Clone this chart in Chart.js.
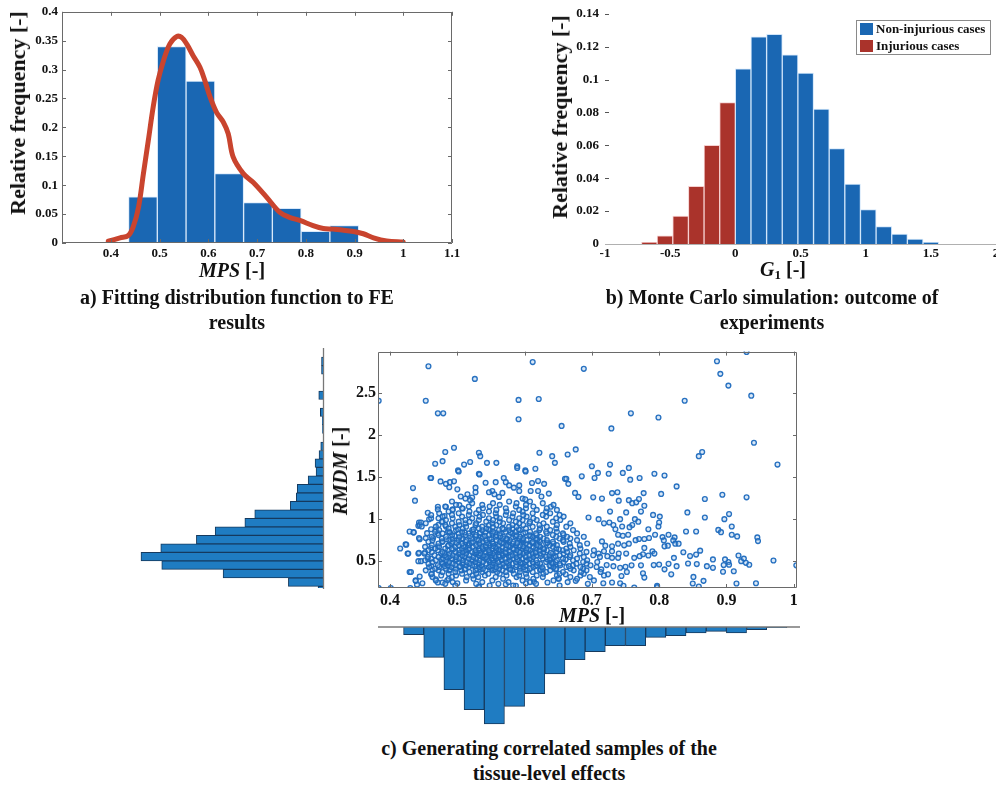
<!DOCTYPE html>
<html>
<head>
<meta charset="utf-8">
<title>MPS / RMDM samples</title>
<script src="https://cdn.jsdelivr.net/npm/chart.js@4.4.1/dist/chart.umd.min.js"></script>
<style>
html, body { margin: 0; padding: 0; width: 996px; height: 787px; overflow: hidden; background: #fff; }
body { position: relative; font-family: "Liberation Serif", "Times New Roman", serif; font-weight: bold; color: #111; }
canvas { position: absolute; }
.lbl { position: absolute; white-space: nowrap; transform: translate(-50%, -50%); font-size: 20px; line-height: 1; }
.rot { transform: translate(-50%, -50%) rotate(-90deg); }
.cap { position: absolute; transform: translateX(-50%); text-align: center; font-size: 20px; line-height: 25px; white-space: nowrap; }
.lbl i { font-style: italic; }
.lbl sub { font-size: 13px; vertical-align: -3px; }
</style>
</head>
<body>
<canvas id="histA" width="470" height="265" style="left:0;top:0"></canvas>
<canvas id="histB" width="470" height="265" style="left:540px;top:0"></canvas>
<canvas id="sideHist" width="200" height="260" style="left:130px;top:340px"></canvas>
<canvas id="scatterC" width="480" height="272" style="left:330px;top:340px"></canvas>
<canvas id="bottomHist" width="480" height="110" style="left:330px;top:620px"></canvas>

<div class="lbl rot" style="left:18px;top:113px;font-size:22px">Relative frequency [-]</div>
<div class="lbl" style="left:232px;top:270px"><i>MPS</i> [-]</div>
<div class="cap" style="left:237px;top:285px">a) Fitting distribution function to FE<br>results</div>

<div class="lbl rot" style="left:560px;top:117px;font-size:22px">Relative frequency [-]</div>
<div class="lbl" style="left:783px;top:270px"><i>G</i><sub>1</sub> [-]</div>
<div class="cap" style="left:772px;top:285px">b) Monte Carlo simulation: outcome of<br>experiments</div>

<div class="lbl rot" style="left:340px;top:471px"><i>RMDM</i> [-]</div>
<div class="lbl" style="left:592px;top:615px"><i>MPS</i> [-]</div>
<div class="cap" style="left:549px;top:736px">c) Generating correlated samples of the<br>tissue-level effects</div>

<script>
// a) FE results
const mpsBinCenters = [0.466, 0.525, 0.584, 0.643, 0.702, 0.761, 0.820, 0.879];
const mpsBinFreq = [0.08, 0.34, 0.28, 0.12, 0.07, 0.06, 0.02, 0.03];
const fitMps = [0.395, 0.419, 0.436, 0.446, 0.457, 0.467, 0.477, 0.487, 0.497, 0.508, 0.521, 0.535, 0.545, 0.556,
  0.569, 0.583, 0.593, 0.604, 0.617, 0.631, 0.641, 0.651, 0.672, 0.692, 0.720, 0.747, 0.768, 0.788, 0.815, 0.836,
  0.857, 0.898, 0.918, 0.939, 0.966, 1.0];
const fitDensity = [0.003, 0.009, 0.013, 0.028, 0.062, 0.12, 0.177, 0.235, 0.281, 0.315, 0.344, 0.357, 0.356, 0.344,
  0.324, 0.304, 0.281, 0.252, 0.226, 0.209, 0.189, 0.149, 0.12, 0.105, 0.079, 0.053, 0.044, 0.039, 0.030, 0.025,
  0.024, 0.020, 0.016, 0.009, 0.0035, 0.0017];

// b) Monte Carlo outcome
const g1Injurious = [-0.66, -0.54, -0.42, -0.30, -0.18, -0.06];
const g1InjuriousFreq = [0.001, 0.005, 0.017, 0.035, 0.060, 0.086];
const g1Safe = [0.06, 0.18, 0.30, 0.42, 0.54, 0.66, 0.78, 0.90, 1.02, 1.14, 1.26, 1.38, 1.50];
const g1SafeFreq = [0.1065, 0.126, 0.1275, 0.115, 0.104, 0.082, 0.058, 0.0365, 0.021, 0.0106, 0.006, 0.003, 0.001];

// c) marginal histograms
const rmdmBinCenters = [0.15, 0.25, 0.35, 0.45, 0.55, 0.65, 0.75, 0.85, 0.95, 1.05, 1.15, 1.25, 1.35, 1.45, 1.55,
  1.65, 1.75, 1.85, 1.95, 2.05, 2.15, 2.25, 2.35, 2.45, 2.55, 2.65, 2.75, 2.85, 2.95];
const rmdmCounts = [5, 35, 101, 163, 184, 164, 128, 109, 79, 69, 33, 27, 26, 15, 7, 8, 4, 2.3, 0, 0.5, 0.7, 2.7, 0,
  4.3, 0, 0, 1.5, 1.5, 0];
const mpsSampleBins = [0.435, 0.465, 0.495, 0.525, 0.555, 0.585, 0.615, 0.645, 0.675, 0.705, 0.735, 0.765, 0.795,
  0.825, 0.855, 0.885, 0.915, 0.945, 0.975];
const mpsSampleCounts = [7.7, 30.3, 62.7, 82.7, 97, 79.3, 66.7, 47, 32.7, 24.7, 18.7, 18.7, 10.3, 8.7, 6, 4.3, 6, 2.7, 0.7];

// c) scatter: sparse samples [MPS, RMDM]
const samplePoints = [
  [0.93,2.99],[0.457,2.82],[0.612,2.87],[0.688,2.79],[0.886,2.88],[0.891,2.73],[0.903,2.59],[0.937,2.47],[0.526,2.67],
  [0.453,2.41],[0.383,2.41],[0.591,2.42],[0.621,2.43],[0.838,2.41],[0.471,2.26],[0.479,2.26],[0.591,2.19],[0.758,2.26],
  [0.799,2.21],[0.655,2.11],[0.729,2.08],[0.941,1.91],[0.495,1.85],[0.482,1.80],[0.676,1.83],[0.664,1.77],[0.622,1.79],
  [0.532,1.79],[0.534,1.75],[0.864,1.80],[0.859,1.75],[0.976,1.65],[0.478,1.69],[0.467,1.66],[0.51,1.65],[0.519,1.68],
  [0.544,1.67],[0.558,1.67],[0.641,1.75],[0.645,1.67],[0.589,1.63],[0.601,1.58],[0.616,1.60],[0.7,1.63],[0.727,1.65],
  [0.755,1.61],[0.501,1.58],[0.46,1.49],[0.532,1.54],[0.709,1.55],[0.725,1.54],[0.746,1.55],[0.793,1.54],[0.808,1.52],
  [0.685,1.51],[0.704,1.49],[0.771,1.49],[0.757,1.47],[0.66,1.48],
  [0.434,1.37],[0.437,1.22],[0.826,1.39],[0.803,1.30],[0.894,1.29],[0.93,1.26],[0.868,1.24],[0.777,1.31],[0.73,1.31],
  [0.738,1.32],[0.715,1.245],[0.702,1.26],[0.74,1.22],[0.755,1.226],[0.76,1.19],[0.766,1.2],[0.77,1.24],[0.778,1.16],
  [0.727,1.09],[0.751,1.08],[0.773,1.09],[0.791,1.05],[0.801,1.03],[0.842,1.08],[0.868,1.02],[0.904,1.06],[0.897,1.0],
  [0.71,1.0],[0.695,1.02],[0.742,1.0],[0.764,1.0],[0.769,0.97],[0.76,0.93],[0.756,0.904],[0.745,0.912],[0.732,0.93],
  [0.726,0.96],[0.718,0.95],[0.8,0.96],[0.799,0.912],[0.784,0.88],[0.888,0.872],[0.892,0.845],[0.908,0.912],
  [0.908,0.814],[0.916,0.794],[0.84,0.853],[0.855,0.853],[0.946,0.782],[0.947,0.739],[0.97,0.508],[1.004,0.45],
  [0.929,0.48],[0.922,0.5],[0.918,0.567],[0.926,0.53],[0.934,0.457],[0.911,0.38],[0.903,0.49],[0.904,0.457],
  [0.898,0.52],[0.896,0.453],[0.895,0.374],[0.88,0.52],[0.88,0.42],[0.871,0.44],[0.861,0.625],[0.855,0.578],
  [0.846,0.56],[0.836,0.606],[0.843,0.472],[0.856,0.465],[0.851,0.312],[0.866,0.265],[0.85,0.233],[0.859,0.198],
  [0.915,0.233],[0.944,0.237],[0.823,0.782],[0.814,0.814],[0.805,0.786],[0.807,0.747],[0.821,0.747],[0.824,0.708],
  [0.829,0.708],[0.813,0.684],[0.808,0.676],[0.794,0.814],[0.785,0.775],[0.778,0.763],[0.77,0.763],[0.765,0.75],
  [0.754,0.814],[0.746,0.802],[0.739,0.814],[0.735,0.88],[0.755,0.708],[0.748,0.688],[0.739,0.708],[0.73,0.676],
  [0.72,0.684],[0.715,0.735],[0.778,0.657],[0.79,0.618],[0.793,0.59],[0.784,0.567],[0.776,0.582],[0.771,0.559],
  [0.763,0.539],[0.751,0.59],[0.74,0.59],[0.73,0.618],[0.718,0.618],[0.71,0.59],[0.723,0.559],[0.73,0.539],
  [0.739,0.539],[0.822,0.539],[0.826,0.44],[0.814,0.468],[0.8,0.46],[0.792,0.453],[0.808,0.402],[0.818,0.343],
  [0.773,0.45],[0.759,0.45],[0.75,0.433],[0.742,0.421],[0.732,0.44],[0.722,0.453],[0.714,0.402],[0.724,0.343],
  [0.744,0.323],[0.752,0.37],[0.778,0.304],[0.776,0.355],[0.717,0.237],[0.73,0.245],[0.742,0.237],[0.747,0.206],
  [0.763,0.186],[0.797,0.206],[0.797,0.19],
  [0.383,0.18],[0.401,0.18],[0.43,0.18],[0.532,0.19],[0.415,0.65],[0.423,0.70],[0.426,0.59],[0.435,0.84],[0.429,0.37],
  [0.443,0.96],[0.442,0.92],[0.444,0.76],[0.442,0.59],[0.442,0.5],[0.438,0.27],[0.44,0.22],[0.429,0.853],[0.435,0.845],
  [0.443,0.774],[0.444,0.931],[0.446,0.959],[0.447,0.912],[0.453,0.951],[0.458,0.998],[0.461,1.01],[0.461,0.88],
  [0.455,0.833],[0.453,0.774],[0.464,0.774],[0.471,0.833],[0.468,0.872],[0.472,0.931],[0.478,0.97],[0.481,1.037],
  [0.483,0.912],[0.486,0.853],[0.477,0.735],[0.471,0.676],[0.461,0.657],[0.452,0.606],[0.443,0.6],[0.446,0.5],
  [0.456,0.527],[0.461,0.441],[0.463,0.394],[0.461,0.343],[0.468,0.284],[0.471,0.245],[0.478,0.245],[0.485,0.272],
  [0.431,0.37],[0.444,0.316],[0.448,0.237],[0.438,0.265],[0.424,0.696],[0.427,0.59],[0.456,1.076],[0.461,1.049],
  [0.471,1.147],[0.471,1.116],[0.483,1.147],[0.493,1.116],[0.503,1.167],[0.508,1.127],
  [0.502,1.567],[0.533,1.531],[0.589,1.61],[0.6015,1.567],[0.461,1.49],[0.475,1.449],[0.483,1.42],[0.489,1.44],
  [0.495,1.45],[0.488,1.38],[0.5,1.355],[0.515,1.296],[0.527,1.375],[0.542,1.433],[0.557,1.44],[0.569,1.49],
  [0.572,1.44],[0.577,1.402],[0.584,1.375],[0.592,1.402],[0.611,1.43],[0.62,1.453],[0.629,1.42],[0.552,1.335],
  [0.547,1.32],[0.555,1.296],[0.562,1.265],[0.567,1.312],[0.527,1.32],[0.522,1.257],[0.519,1.226],[0.512,1.245],
  [0.505,1.27],[0.592,1.335],[0.597,1.245],[0.601,1.237],[0.609,1.335],[0.62,1.335],[0.625,1.27],[0.636,1.304],
  [0.639,1.147],[0.662,1.48],[0.665,1.42],[0.675,1.312],[0.68,1.265],
  [0.5,0.237],[0.532,0.198],[0.572,0.225],[0.587,0.206],[0.602,0.237],[0.614,0.253],[0.634,0.245],[0.676,0.265],
  [0.661,0.343],[0.65,0.292]
];

// c) scatter: dense core, one row per RMDM level -> MPS values
const clusterRows = [
  [0.21, [0.497, 0.548, 0.583, 0.652]],
  [0.23, [0.482, 0.528, 0.561, 0.617, 0.694]],
  [0.25, [0.493, 0.537, 0.576, 0.608, 0.664]],
  [0.27, [0.468, 0.513, 0.552, 0.597, 0.643, 0.703]],
  [0.29, [0.487, 0.524, 0.568, 0.613, 0.651, 0.678]],
  [0.31, [0.463, 0.492, 0.514, 0.531, 0.557, 0.588, 0.603, 0.627, 0.668, 0.697]],
  [0.33, [0.476, 0.498, 0.523, 0.541, 0.573, 0.592, 0.618, 0.648, 0.683, 0.718]],
  [0.35, [0.462, 0.487, 0.507, 0.528, 0.546, 0.563, 0.584, 0.602, 0.628, 0.652, 0.688]],
  [0.37, [0.478, 0.497, 0.518, 0.537, 0.559, 0.572, 0.593, 0.612, 0.632, 0.657, 0.684, 0.713]],
  [0.39, [0.453, 0.472, 0.488, 0.506, 0.527, 0.542, 0.553, 0.567, 0.582, 0.604, 0.623, 0.638, 0.673, 0.692]],
  [0.40, [0.489, 0.511, 0.534, 0.556, 0.579, 0.601, 0.624, 0.646]],
  [0.41, [0.467, 0.483, 0.498, 0.512, 0.529, 0.538, 0.551, 0.562, 0.578, 0.593, 0.608, 0.627, 0.647, 0.668, 0.687]],
  [0.43, [0.458, 0.473, 0.491, 0.503, 0.517, 0.533, 0.547, 0.558, 0.573, 0.587, 0.598, 0.613, 0.626, 0.643, 0.662, 0.683, 0.707]],
  [0.44, [0.481, 0.504, 0.526, 0.549, 0.571, 0.593, 0.616, 0.639, 0.666]],
  [0.45, [0.471, 0.486, 0.497, 0.513, 0.522, 0.536, 0.552, 0.563, 0.577, 0.588, 0.602, 0.618, 0.637, 0.653, 0.672, 0.698]],
  [0.47, [0.457, 0.478, 0.493, 0.507, 0.518, 0.532, 0.543, 0.557, 0.568, 0.582, 0.597, 0.607, 0.623, 0.642, 0.652, 0.677, 0.692]],
  [0.48, [0.486, 0.509, 0.531, 0.553, 0.576, 0.594, 0.619, 0.641]],
  [0.49, [0.463, 0.477, 0.488, 0.502, 0.514, 0.527, 0.538, 0.548, 0.561, 0.573, 0.587, 0.601, 0.612, 0.632, 0.646, 0.658, 0.687, 0.708]],
  [0.51, [0.452, 0.468, 0.483, 0.497, 0.508, 0.523, 0.533, 0.547, 0.554, 0.566, 0.578, 0.592, 0.603, 0.617, 0.637, 0.648, 0.672, 0.693]],
  [0.52, [0.476, 0.499, 0.521, 0.544, 0.566, 0.589, 0.611, 0.634, 0.661]],
  [0.53, [0.461, 0.479, 0.492, 0.503, 0.517, 0.528, 0.541, 0.552, 0.558, 0.571, 0.583, 0.597, 0.608, 0.627, 0.638, 0.657, 0.678]],
  [0.55, [0.456, 0.472, 0.484, 0.498, 0.511, 0.524, 0.537, 0.543, 0.556, 0.563, 0.577, 0.588, 0.602, 0.613, 0.632, 0.643, 0.667, 0.688, 0.712]],
  [0.56, [0.489, 0.511, 0.534, 0.556, 0.579, 0.601, 0.624, 0.646]],
  [0.57, [0.466, 0.481, 0.493, 0.507, 0.518, 0.532, 0.539, 0.551, 0.562, 0.568, 0.582, 0.593, 0.607, 0.618, 0.637, 0.652, 0.668, 0.702]],
  [0.59, [0.451, 0.476, 0.488, 0.502, 0.513, 0.527, 0.534, 0.547, 0.553, 0.567, 0.573, 0.587, 0.598, 0.612, 0.623, 0.642, 0.658, 0.682]],
  [0.60, [0.481, 0.504, 0.526, 0.549, 0.571, 0.593, 0.616, 0.639]],
  [0.61, [0.462, 0.478, 0.497, 0.508, 0.522, 0.529, 0.542, 0.548, 0.562, 0.572, 0.578, 0.592, 0.603, 0.617, 0.628, 0.647, 0.663, 0.692]],
  [0.63, [0.457, 0.471, 0.486, 0.503, 0.513, 0.527, 0.533, 0.547, 0.557, 0.563, 0.577, 0.588, 0.602, 0.608, 0.622, 0.633, 0.657, 0.673, 0.703]],
  [0.64, [0.494, 0.516, 0.539, 0.561, 0.584, 0.606, 0.629, 0.651]],
  [0.65, [0.467, 0.482, 0.492, 0.507, 0.518, 0.532, 0.538, 0.552, 0.558, 0.572, 0.583, 0.597, 0.603, 0.617, 0.628, 0.647, 0.662, 0.683]],
  [0.67, [0.452, 0.473, 0.497, 0.512, 0.523, 0.537, 0.543, 0.557, 0.567, 0.578, 0.592, 0.598, 0.613, 0.623, 0.642, 0.668]],
  [0.68, [0.486, 0.509, 0.531, 0.553, 0.576, 0.598, 0.621]],
  [0.69, [0.462, 0.487, 0.502, 0.517, 0.528, 0.542, 0.548, 0.562, 0.573, 0.587, 0.593, 0.607, 0.618, 0.637, 0.648, 0.682]],
  [0.71, [0.472, 0.491, 0.507, 0.518, 0.533, 0.547, 0.553, 0.568, 0.582, 0.588, 0.602, 0.613, 0.632, 0.643, 0.667, 0.693]],
  [0.72, [0.499, 0.521, 0.544, 0.566, 0.589, 0.611, 0.634]],
  [0.73, [0.457, 0.478, 0.493, 0.512, 0.523, 0.538, 0.552, 0.563, 0.577, 0.583, 0.598, 0.612, 0.623, 0.642, 0.658]],
  [0.75, [0.463, 0.488, 0.502, 0.513, 0.532, 0.543, 0.558, 0.572, 0.578, 0.597, 0.603, 0.622, 0.633, 0.657, 0.678]],
  [0.76, [0.484, 0.506, 0.529, 0.551, 0.574, 0.596, 0.619]],
  [0.77, [0.477, 0.493, 0.508, 0.522, 0.537, 0.548, 0.567, 0.573, 0.592, 0.598, 0.617, 0.628, 0.652, 0.668]],
  [0.79, [0.462, 0.483, 0.503, 0.527, 0.538, 0.557, 0.568, 0.587, 0.593, 0.612, 0.623, 0.647, 0.663, 0.688]],
  [0.80, [0.496, 0.519, 0.541, 0.564, 0.586, 0.609]],
  [0.81, [0.472, 0.492, 0.512, 0.528, 0.547, 0.558, 0.577, 0.588, 0.607, 0.618, 0.642, 0.658]],
  [0.83, [0.478, 0.502, 0.517, 0.533, 0.552, 0.563, 0.582, 0.598, 0.617, 0.633, 0.657, 0.678]],
  [0.84, [0.489, 0.511, 0.534, 0.556, 0.579, 0.601]],
  [0.85, [0.467, 0.488, 0.507, 0.523, 0.542, 0.553, 0.572, 0.587, 0.608, 0.632, 0.648]],
  [0.87, [0.473, 0.498, 0.522, 0.537, 0.548, 0.562, 0.577, 0.593, 0.622, 0.638, 0.672]],
  [0.88, [0.501, 0.524, 0.546, 0.569, 0.591]],
  [0.89, [0.487, 0.508, 0.532, 0.543, 0.567, 0.582, 0.602, 0.623, 0.647]],
  [0.91, [0.468, 0.497, 0.513, 0.537, 0.553, 0.577, 0.588, 0.612, 0.633, 0.662]],
  [0.93, [0.482, 0.503, 0.527, 0.547, 0.558, 0.582, 0.598, 0.622, 0.648]],
  [0.95, [0.492, 0.512, 0.528, 0.552, 0.568, 0.592, 0.607, 0.628, 0.668]],
  [0.97, [0.477, 0.502, 0.518, 0.543, 0.563, 0.587, 0.608, 0.642]],
  [0.99, [0.483, 0.512, 0.532, 0.553, 0.577, 0.597, 0.618, 0.653]],
  [1.01, [0.472, 0.493, 0.522, 0.547, 0.563, 0.592, 0.613, 0.647]],
  [1.03, [0.478, 0.507, 0.533, 0.558, 0.582, 0.603, 0.632, 0.658]],
  [1.05, [0.492, 0.517, 0.538, 0.572, 0.598, 0.627, 0.652]],
  [1.07, [0.473, 0.502, 0.528, 0.557, 0.583, 0.612, 0.638]],
  [1.09, [0.487, 0.518, 0.547, 0.573, 0.597, 0.632]],
  [1.11, [0.493, 0.532, 0.558, 0.592, 0.618, 0.648]],
  [1.13, [0.507, 0.538, 0.572, 0.602, 0.633]],
  [1.15, [0.482, 0.517, 0.548, 0.587, 0.613]],
  [1.17, [0.498, 0.537, 0.563, 0.602, 0.643]],
  [1.19, [0.522, 0.553, 0.588, 0.627]],
  [1.21, [0.492, 0.577, 0.608]]
];

const blueBar = '#1a67b3';
const redBar = '#aa332b';
const sideBlue = '#1f7cc2';
const sideEdge = '#163a5e';
const fitRed = '#c9442e';
const dotBlue = 'rgba(30,106,190,0.95)';

Chart.defaults.font.family = '"Liberation Serif", "Times New Roman", serif';
Chart.defaults.font.weight = 'bold';
Chart.defaults.color = '#111';
Chart.defaults.animation = false;
Chart.defaults.responsive = false;
Chart.defaults.devicePixelRatio = 1;
Chart.defaults.plugins.legend.display = false;
Chart.defaults.plugins.tooltip.enabled = false;

const fmt = v => String(+Number(v).toFixed(3));
const noGrid = { display: false, drawTicks: false };

// frame box + inward tick marks, drawn from the scales
const frameTicks = {
  id: 'frameTicks',
  afterDraw(chart, args, o) {
    const { ctx, chartArea: ca, scales: { x, y } } = chart;
    const len = o.len || 4;
    ctx.save();
    ctx.strokeStyle = o.color || '#666';
    ctx.lineWidth = 1;
    ctx.beginPath();
    if (o.box) {
      ctx.rect(Math.round(ca.left) + 0.5, Math.round(ca.top) + 0.5, Math.round(ca.width) - 1, Math.round(ca.height) - 1);
    }
    if (o.xTicks) {
      x.ticks.forEach(t => {
        const px = Math.round(x.getPixelForValue(t.value)) + 0.5;
        ctx.moveTo(px, ca.bottom); ctx.lineTo(px, ca.bottom - len);
        if (o.box) { ctx.moveTo(px, ca.top); ctx.lineTo(px, ca.top + len); }
      });
    }
    if (o.yTicks) {
      y.ticks.forEach(t => {
        const py = Math.round(y.getPixelForValue(t.value)) + 0.5;
        ctx.moveTo(ca.left, py); ctx.lineTo(ca.left + len, py);
        if (o.box) { ctx.moveTo(ca.right, py); ctx.lineTo(ca.right - len, py); }
      });
    }
    ctx.stroke();
    if (o.baseline) {
      ctx.strokeStyle = o.baseline;
      ctx.beginPath();
      const by = Math.round(ca.bottom) + 0.5;
      ctx.moveTo(ca.left, by); ctx.lineTo(ca.right, by);
      ctx.stroke();
    }
    ctx.restore();
  }
};

// boxed legend inside panel b
const boxLegend = {
  id: 'boxLegend',
  afterDraw(chart, args, o) {
    const { ctx } = chart;
    ctx.save();
    ctx.fillStyle = '#fff';
    ctx.fillRect(o.x, o.y, o.w, o.h);
    ctx.strokeStyle = '#8a8a8a';
    ctx.lineWidth = 1;
    ctx.strokeRect(o.x + 0.5, o.y + 0.5, o.w, o.h);
    ctx.font = 'bold 13px "Liberation Serif", serif';
    ctx.textBaseline = 'middle';
    chart.data.datasets.forEach((ds, i) => {
      const cy = o.y + 9 + i * 17;
      ctx.fillStyle = ds.backgroundColor;
      ctx.fillRect(o.x + 4, cy - 6, 13, 12);
      ctx.fillStyle = '#111';
      ctx.fillText(ds.label, o.x + 20, cy + 1);
    });
    ctx.restore();
  }
};

// zero line of a marginal histogram
const histBase = {
  id: 'histBase',
  afterDraw(chart, args, o) {
    const { ctx, chartArea: ca } = chart;
    ctx.save();
    ctx.strokeStyle = '#777';
    ctx.lineWidth = 1.3;
    ctx.beginPath();
    if (o.side === 'right') {
      ctx.moveTo(ca.right + 0.5, ca.top - 1); ctx.lineTo(ca.right + 0.5, ca.bottom + 1);
    } else {
      ctx.moveTo(ca.left, ca.top); ctx.lineTo(ca.right + 3, ca.top);
    }
    ctx.stroke();
    ctx.restore();
  }
};

// a) histogram + fitted distribution
new Chart(document.getElementById('histA'), {
  type: 'bar',
  data: {
    datasets: [
      {
        type: 'line', order: 0,
        data: fitMps.map((x, i) => ({ x, y: fitDensity[i] })),
        borderColor: fitRed, borderWidth: 5, pointRadius: 0, tension: 0.35,
        borderCapStyle: 'round', borderJoinStyle: 'round', fill: false
      },
      {
        type: 'bar', order: 1,
        data: mpsBinCenters.map((x, i) => ({ x, y: mpsBinFreq[i] })),
        backgroundColor: blueBar, borderColor: 'rgba(215,232,250,0.95)', borderWidth: 1,
        barPercentage: 1, categoryPercentage: 1, grouped: false
      }
    ]
  },
  options: {
    layout: { padding: { top: 11, right: 18, left: 0, bottom: 0 } },
    scales: {
      x: {
        type: 'linear', offset: false, min: 0.3, max: 1.1, grid: noGrid, border: { display: false },
        ticks: { stepSize: 0.1, padding: 3, autoSkip: false, maxRotation: 0, font: { size: 13 },
          callback: v => (v < 0.35 ? '' : fmt(v)) },
        afterFit: s => { s.height = 22; }
      },
      y: {
        min: 0, max: 0.4, grid: noGrid, border: { display: false },
        ticks: { stepSize: 0.05, padding: 4, font: { size: 13 }, callback: fmt },
        afterFit: s => { s.width = 62; }
      }
    },
    plugins: { frameTicks: { box: true, xTicks: true, yTicks: true, color: '#6a6a6a', len: 4 } }
  },
  plugins: [frameTicks]
});

// b) Monte Carlo histogram
new Chart(document.getElementById('histB'), {
  type: 'bar',
  data: {
    datasets: [
      {
        label: 'Non-injurious cases',
        data: g1Safe.map((x, i) => ({ x, y: g1SafeFreq[i] })),
        backgroundColor: blueBar, borderColor: 'rgba(205,228,250,0.95)', borderWidth: 1,
        barPercentage: 1, categoryPercentage: 1, grouped: false
      },
      {
        label: 'Injurious cases',
        data: g1Injurious.map((x, i) => ({ x, y: g1InjuriousFreq[i] })),
        backgroundColor: redBar, borderColor: 'rgba(245,205,205,0.95)', borderWidth: 1,
        barPercentage: 1, categoryPercentage: 1, grouped: false
      }
    ]
  },
  options: {
    layout: { padding: { top: 10, right: 14, left: 0, bottom: 0 } },
    scales: {
      x: {
        type: 'linear', offset: false, min: -1, max: 2, grid: noGrid, border: { display: false },
        ticks: { stepSize: 0.5, padding: 2, autoSkip: false, maxRotation: 0, font: { size: 13 }, callback: fmt },
        afterFit: s => { s.height = 21; }
      },
      y: {
        min: 0, max: 0.14, grid: noGrid, border: { display: false },
        ticks: { stepSize: 0.02, padding: 6, font: { size: 13 }, callback: fmt },
        afterFit: s => { s.width = 65; }
      }
    },
    plugins: {
      frameTicks: { box: false, xTicks: false, yTicks: true, color: '#555', len: 4, baseline: '#b0b0b0' },
      boxLegend: { x: 316, y: 20, w: 134, h: 34 }
    }
  },
  plugins: [frameTicks, boxLegend]
});

// c) scatter of correlated samples
const scatterData = samplePoints.map(p => ({ x: p[0], y: p[1] }));
clusterRows.forEach(([rmdm, mpsList]) => {
  mpsList.forEach(m => scatterData.push({ x: m, y: rmdm }));
});

const mpsMin = 0.382, mpsMax = 1.005;
const rmdmMin = 0.18, rmdmMax = 2.995;

new Chart(document.getElementById('scatterC'), {
  type: 'scatter',
  data: {
    datasets: [{
      data: scatterData,
      pointRadius: 2.4, pointBorderWidth: 1.35,
      pointBorderColor: dotBlue, pointBackgroundColor: 'rgba(130,180,230,0.3)'
    }]
  },
  options: {
    layout: { padding: { top: 9, right: 13, left: 0, bottom: 0 } },
    scales: {
      x: {
        type: 'linear', min: mpsMin, max: mpsMax, grid: noGrid, border: { display: false },
        ticks: { stepSize: 0.1, includeBounds: false, padding: 3, autoSkip: false, maxRotation: 0,
          font: { size: 16 }, callback: fmt },
        afterFit: s => { s.height = 24; }
      },
      y: {
        min: rmdmMin, max: rmdmMax, grid: noGrid, border: { display: false },
        ticks: { stepSize: 0.5, includeBounds: false, padding: 2, font: { size: 16 }, callback: fmt },
        afterFit: s => { s.width = 48; }
      }
    },
    plugins: { frameTicks: { box: true, xTicks: true, yTicks: true, color: '#6a6a6a', len: 4 } }
  },
  plugins: [frameTicks]
});

// c) RMDM marginal histogram (left, horizontal)
new Chart(document.getElementById('sideHist'), {
  type: 'bar',
  data: {
    datasets: [{
      data: rmdmBinCenters.map((y, i) => ({ y, x: rmdmCounts[i] })),
      backgroundColor: sideBlue, borderColor: sideEdge, borderWidth: 1,
      barPercentage: 1, categoryPercentage: 1
    }]
  },
  options: {
    indexAxis: 'y',
    layout: { padding: { top: 9, right: 7, left: 9, bottom: 12 } },
    scales: {
      y: { type: 'linear', offset: false, min: rmdmMin, max: rmdmMax, display: false,
        ticks: { stepSize: 0.5, includeBounds: false } },
      x: { min: 0, max: 186, reverse: true, display: false }
    },
    plugins: { histBase: { side: 'right' } }
  },
  plugins: [histBase]
});

// c) MPS marginal histogram (below, hanging)
new Chart(document.getElementById('bottomHist'), {
  type: 'bar',
  data: {
    datasets: [{
      data: mpsSampleBins.map((x, i) => ({ x, y: mpsSampleCounts[i] })),
      backgroundColor: sideBlue, borderColor: sideEdge, borderWidth: 1,
      barPercentage: 1, categoryPercentage: 1
    }]
  },
  options: {
    layout: { padding: { top: 7, right: 13, left: 48, bottom: 3 } },
    scales: {
      x: { type: 'linear', offset: false, min: mpsMin, max: mpsMax, display: false,
        ticks: { stepSize: 0.1, includeBounds: false } },
      y: { min: 0, max: 100, reverse: true, display: false }
    },
    plugins: { histBase: { side: 'top' } }
  },
  plugins: [histBase]
});
</script>
</body>
</html>
